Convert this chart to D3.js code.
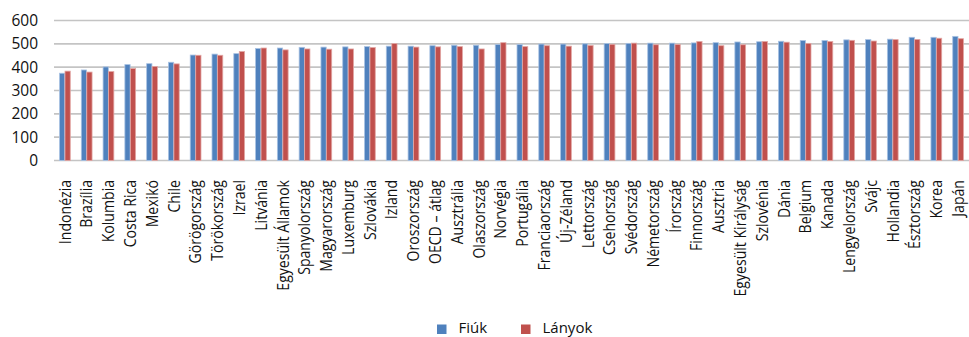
<!DOCTYPE html>
<html>
<head>
<meta charset="utf-8">
<script src="https://cdn.jsdelivr.net/npm/d3@7"></script>
<style>
  html, body { margin: 0; padding: 0; background: #fff; }
  svg { display: block; font-family: "Open Sans", "Noto Sans", sans-serif; }
</style>
</head>
<body>
<svg id="chart" width="969" height="337"></svg>
<script>
// Országok (növekvő sorrendben)
const categories = [
  "Indonézia", "Brazília", "Kolumbia", "Costa Rica", "Mexikó", "Chile",
  "Görögország", "Törökország", "Izrael", "Litvánia", "Egyesült Államok",
  "Spanyolország", "Magyarország", "Luxemburg", "Szlovákia", "Izland",
  "Oroszország", "OECD – átlag", "Ausztrália", "Olaszország", "Norvégia",
  "Portugália", "Franciaország", "Új-Zéland", "Lettország", "Csehország",
  "Svédország", "Németország", "Írország", "Finnország", "Ausztria",
  "Egyesült Királyság", "Szlovénia", "Dánia", "Belgium", "Kanada",
  "Lengyelország", "Svájc", "Hollandia", "Észtország", "Korea", "Japán"
];

const boys = [
  374, 388, 401, 411, 415, 421, 452, 456, 458, 480, 482,
  485, 486, 487, 488, 490, 490, 492, 494, 494, 497,
  497, 499, 499, 500, 501, 502, 503, 503, 504, 505,
  508, 509, 511, 514, 514, 517, 518, 520, 528, 528, 532
];

const girls = [
  383, 379, 381, 394, 403, 414, 451, 451, 467, 482, 474,
  478, 477, 478, 484, 501, 486, 487, 488, 478, 505,
  488, 492, 490, 493, 498, 503, 496, 497, 510, 492,
  496, 510, 507, 502, 510, 515, 512, 518, 519, 524, 522
];

const yTicks = [0, 100, 200, 300, 400, 500, 600];
const seriesNames = ["Fiúk", "Lányok"];
const seriesColors = ["#4f81bd", "#c0504d"];
const seriesStroke = ["#a9c2e3", "#e2a6a4"];

const svg = d3.select("#chart");
const W = 969;
const plotLeft = 54, plotBottom = 160.5, plotTop = 20.5;

const x = d3.scaleBand()
  .domain(categories)
  .range([plotLeft, W])
  .paddingInner(0)
  .paddingOuter(0);

const y = d3.scaleLinear().domain([0, 600]).range([plotBottom, plotTop]);

const groupWidth = 11.2;
const sub = d3.scaleBand()
  .domain(seriesNames)
  .range([0, groupWidth])
  .padding(0.04);

// rácsvonalak
svg.append("g")
  .selectAll("line")
  .data(yTicks)
  .join("line")
  .attr("x1", plotLeft)
  .attr("x2", W)
  .attr("y1", d => y(d))
  .attr("y2", d => y(d))
  .attr("stroke", "#c4c4c4")
  .attr("stroke-width", 1.6);

// y tengely feliratai
const yAxis = d3.axisLeft(y).tickValues(yTicks).tickSize(0).tickPadding(0);
const gy = svg.append("g")
  .attr("transform", "translate(38,0)")
  .call(yAxis);
gy.select(".domain").remove();
gy.selectAll("text")
  .attr("font-size", 15.5)
  .attr("fill", "#111")
  .attr("font-family", "'Open Sans', sans-serif");

// oszlopok
const rows = categories.map((c, i) => ({ c, vals: [boys[i], girls[i]] }));
const groupOffset = (x.bandwidth() - groupWidth) / 2;

const groups = svg.append("g")
  .selectAll("g")
  .data(rows)
  .join("g")
  .attr("transform", d => `translate(${x(d.c) + groupOffset},0)`);

groups.selectAll("rect")
  .data(d => d.vals.map((v, k) => ({ v, k })))
  .join("rect")
  .attr("x", d => sub(seriesNames[d.k]))
  .attr("width", sub.bandwidth())
  .attr("y", d => y(d.v))
  .attr("height", d => y(0) - y(d.v))
  .attr("fill", d => seriesColors[d.k])
  .attr("stroke", d => seriesStroke[d.k])
  .attr("stroke-width", 0.8);

// x tengely feliratai (függőlegesen, keskenyített betűkkel)
const squeeze = 0.88;
const xAxis = d3.axisBottom(x).tickSize(0).tickPadding(0);
const gx = svg.append("g")
  .attr("transform", `translate(0,${plotBottom})`)
  .call(xAxis);
gx.select(".domain").remove();
gx.selectAll("text")
  .attr("transform", `rotate(-90) scale(${squeeze},1)`)
  .attr("x", -19.5 / squeeze)
  .attr("y", 0)
  .attr("dy", "0.36em")
  .attr("text-anchor", "end")
  .attr("font-size", 16)
  .attr("fill", "#111")
  .attr("font-family", "'Open Sans', sans-serif");

// jelmagyarázat
const legendItems = [
  { name: seriesNames[0], color: seriesColors[0], x: 437 },
  { name: seriesNames[1], color: seriesColors[1], x: 521 }
];
const lg = svg.append("g").selectAll("g")
  .data(legendItems)
  .join("g")
  .attr("transform", d => `translate(${d.x},324.5)`);
lg.append("rect")
  .attr("width", 9.5)
  .attr("height", 9.5)
  .attr("fill", d => d.color);
lg.append("text")
  .attr("x", 21.5)
  .attr("y", 8.8)
  .attr("font-size", 15)
  .attr("fill", "#111")
  .text(d => d.name);
</script>
</body>
</html>
